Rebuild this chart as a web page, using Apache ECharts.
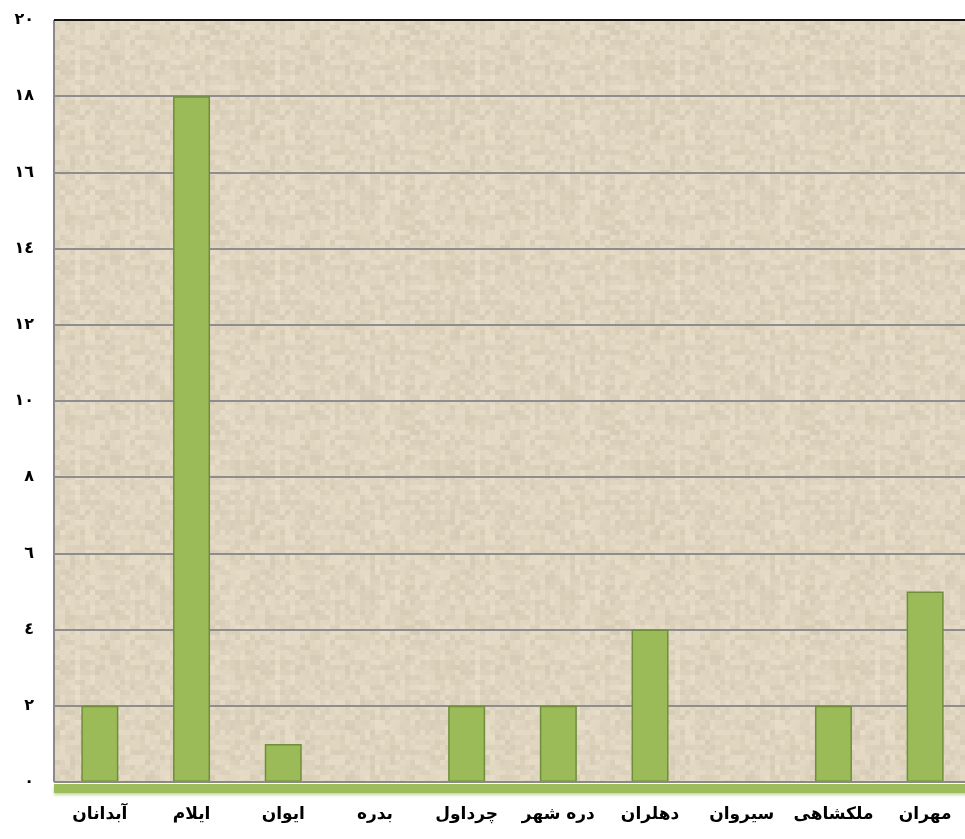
<!DOCTYPE html>
<html>
<head>
<meta charset="UTF-8">
<title>chart</title>
<script src="https://cdn.jsdelivr.net/npm/echarts@6/dist/echarts.min.js"></script>
<style>
  html, body { margin: 0; padding: 0; background: #fff; }
  #main { width: 965px; height: 839px; }
</style>
</head>
<body>
<div id="main"></div>
<script type="text/javascript">
// شهرستان ها و مقادیر
var categories = ['آبدانان', 'ایلام', 'ایوان', 'بدره', 'چرداول', 'دره شهر', 'دهلران', 'سیروان', 'ملکشاهی', 'مهران'];
var values = [2, 18, 1, 0, 2, 2, 4, 0, 2, 5];
var yTickLabels = ['٠', '٢', '٤', '٦', '٨', '١٠', '١٢', '١٤', '١٦', '١٨', '٢٠'];

// بافت پس زمینه (مربع های ریز بژ)
function makeTexture() {
  var c = document.createElement('canvas');
  c.width = 200; c.height = 200;
  var ctx = c.getContext('2d');
  var cell = 5;
  for (var y = 0; y < 40; y++) {
    for (var x = 0; x < 40; x++) {
      var h = Math.sin(x * 12.9898 + y * 78.233) * 43758.5453;
      h = h - Math.floor(h);
      var h2 = Math.sin(x * 7.13 + 3.1) * 9871.21;
      h2 = h2 - Math.floor(h2);
      var t = h * 0.8 + h2 * 0.2;
      var r = Math.round(213 + t * 19);
      var g = Math.round(203 + t * 19);
      var b = Math.round(181 + t * 20);
      ctx.fillStyle = 'rgb(' + r + ',' + g + ',' + b + ')';
      ctx.fillRect(x * cell, y * cell, cell, cell);
    }
  }
  return c;
}

var myChart = echarts.init(document.getElementById('main'));
var option = {
  animation: false,
  grid: {
    left: 54, top: 20, width: 917, bottom: 57,
    outerBoundsMode: 'none',
    containLabel: false,
    show: true,
    borderWidth: 0,
    backgroundColor: { image: makeTexture(), repeat: 'repeat' }
  },
  xAxis: [{
    type: 'category',
    data: categories,
    axisLine: { lineStyle: { color: '#8a8a8a', width: 2, cap: 'butt' } },
    axisTick: { show: false },
    axisLabel: {
      color: '#000', fontSize: 17, fontWeight: 'bold',
      fontFamily: 'DejaVu Sans', margin: 24, interval: 0
    },
    z: 5
  }, {
    type: 'category',
    data: categories,
    position: 'bottom',
    offset: 6,
    axisLine: { lineStyle: { color: '#9dbc5c', width: 9, cap: 'butt', shadowColor: 'rgba(140,175,80,0.5)', shadowBlur: 3, shadowOffsetY: 2 } },
    axisTick: { show: false },
    axisLabel: { show: false },
    z: 1
  }, {
    type: 'category',
    data: categories,
    position: 'top',
    axisLine: { lineStyle: { color: '#151515', width: 2, cap: 'butt' } },
    axisTick: { show: false },
    axisLabel: { show: false }
  }],
  yAxis: {
    type: 'value',
    min: 0, max: 20, interval: 2,
    axisLine: { show: true, lineStyle: { color: '#8a8a8a', width: 2, cap: 'butt' } },
    axisTick: { show: false },
    splitLine: { lineStyle: { color: '#8e8e8e', width: 2 } },
    axisLabel: {
      color: '#000', fontSize: 16, fontWeight: 'bold',
      fontFamily: 'DejaVu Sans', margin: 20,
      formatter: function (v) { return yTickLabels[v / 2]; }
    }
  },
  series: [{
    type: 'bar',
    data: values,
    barWidth: 37,
    itemStyle: { color: '#9bbb59', borderColor: '#6f8e3b', borderWidth: 1.5 }
  }]
};
myChart.setOption(option);
</script>
</body>
</html>
